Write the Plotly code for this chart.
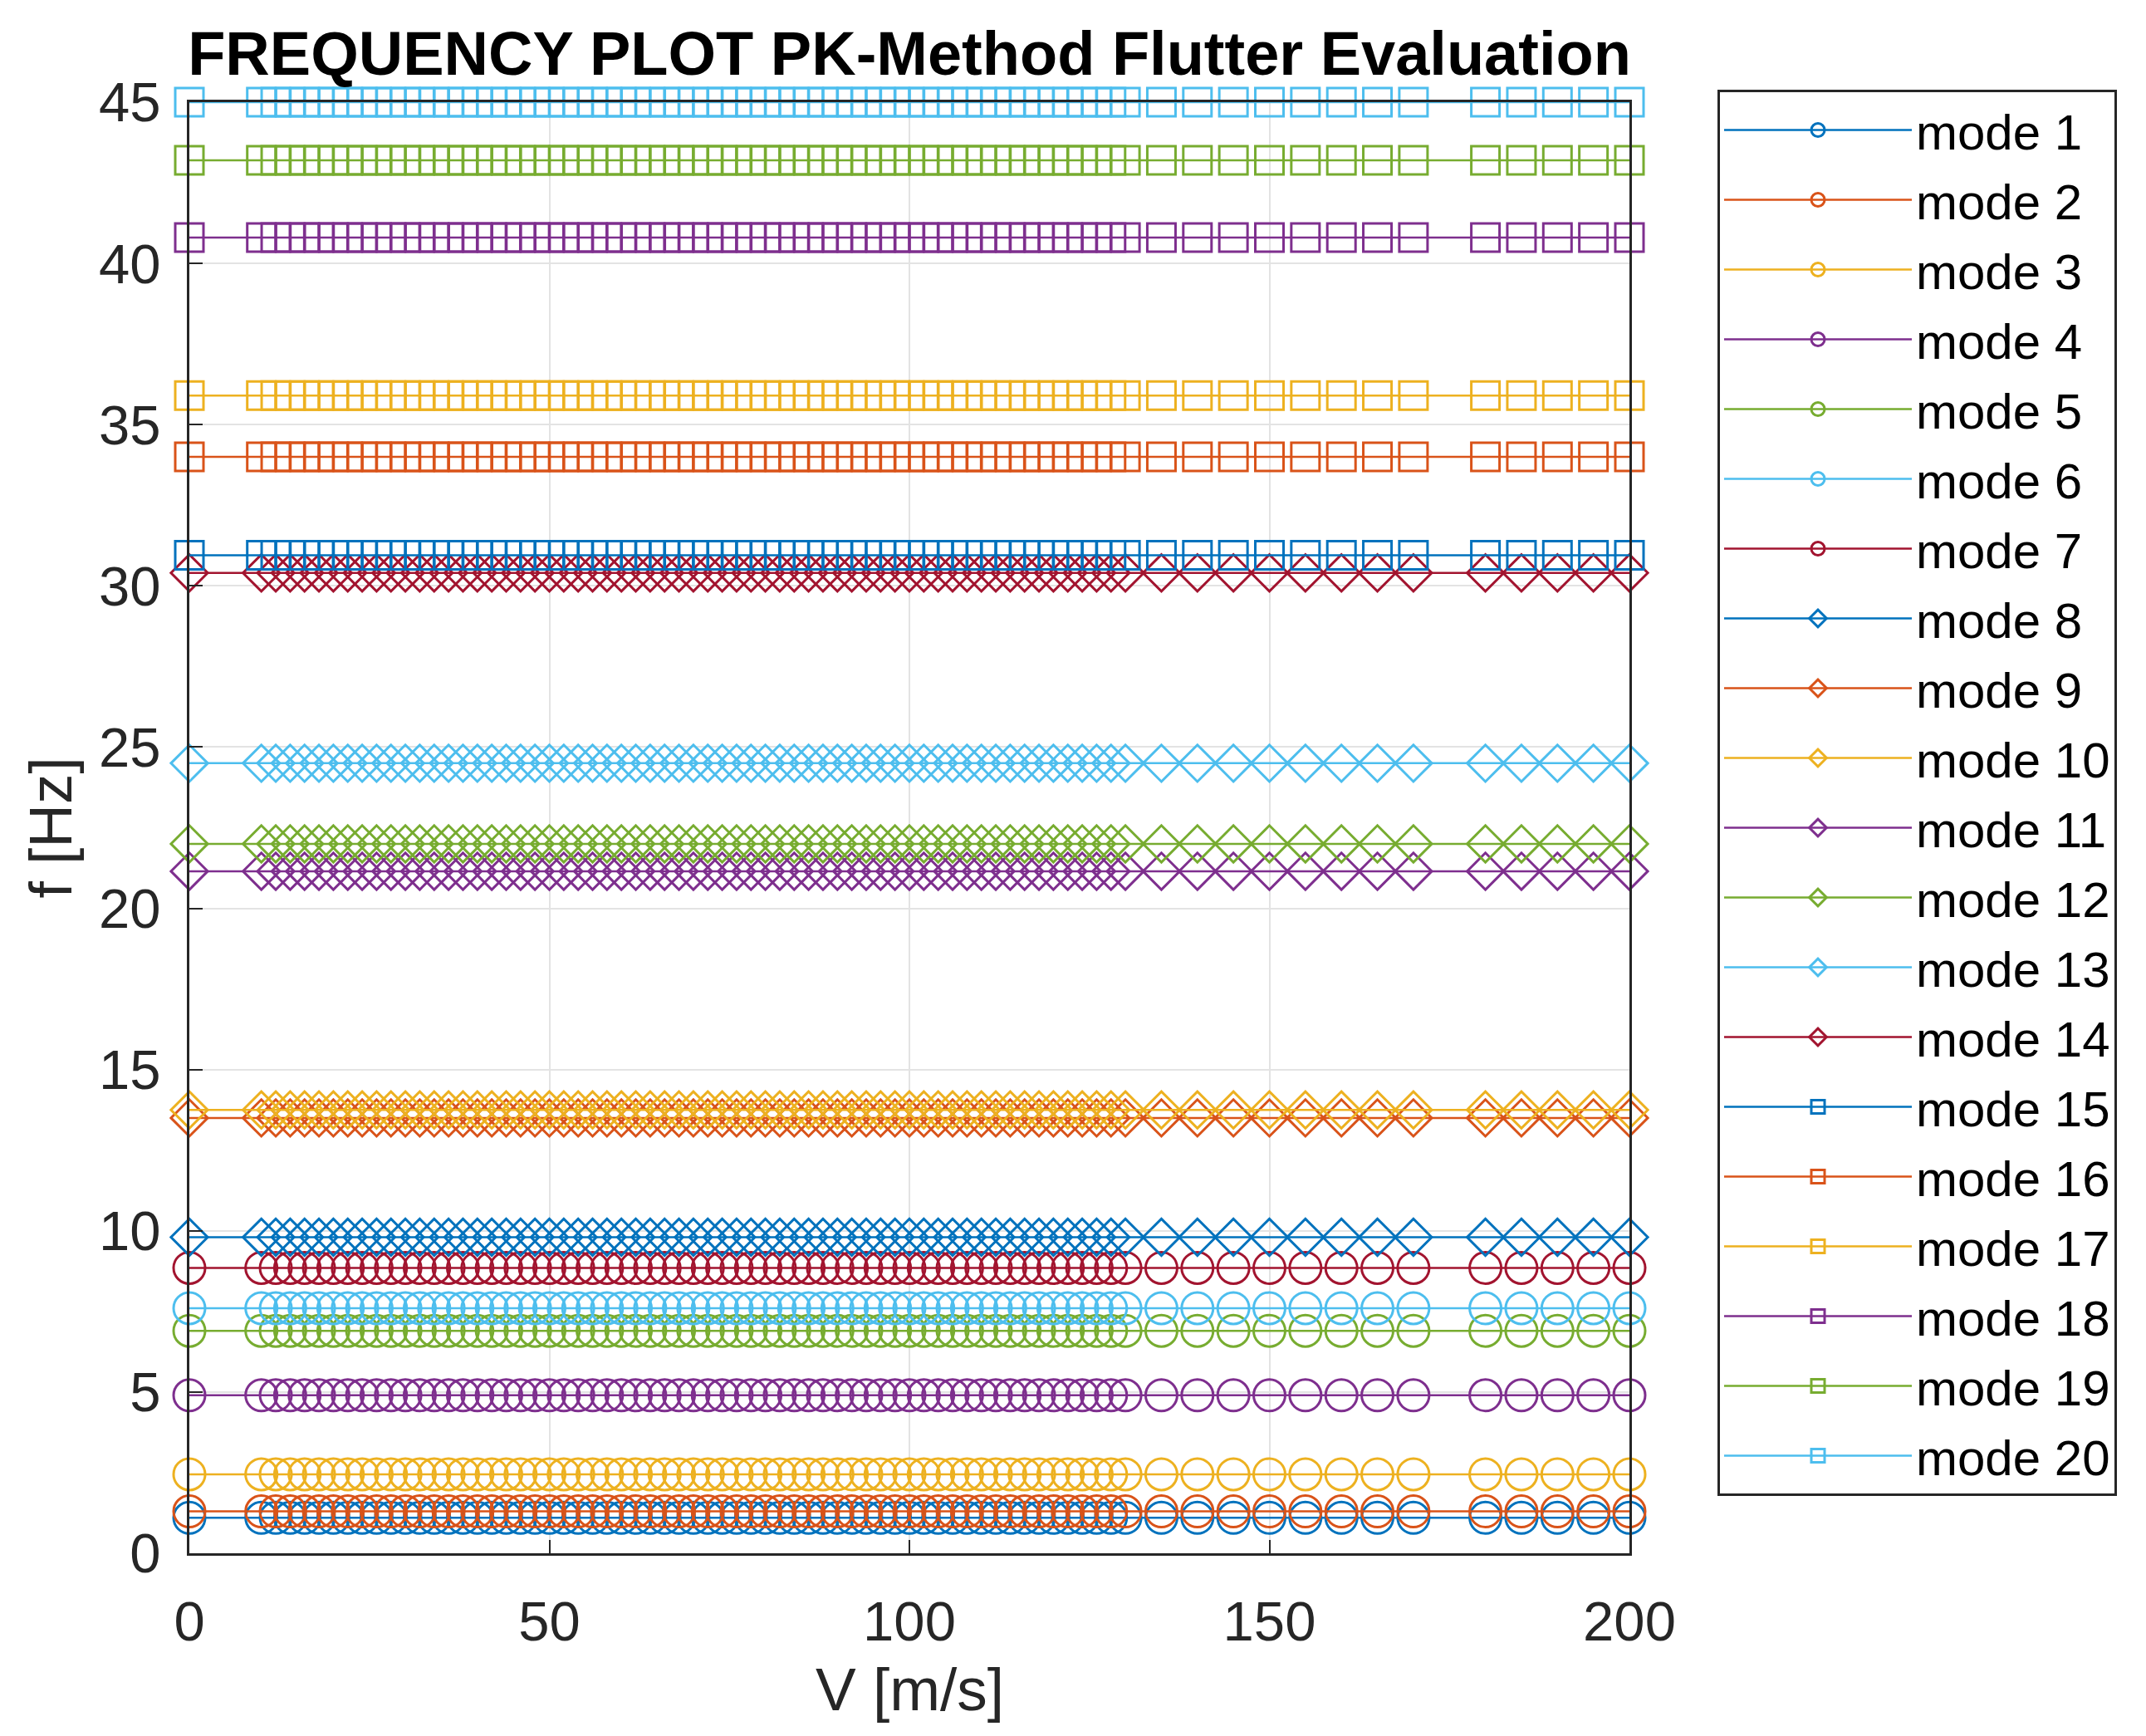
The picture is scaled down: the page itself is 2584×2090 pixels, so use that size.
"""Frequency plot, PK-method flutter evaluation (20 modes vs airspeed)
"""
import plotly.graph_objects as go

# airspeed points [m/s]
V = [0,
     10, 12, 14, 16, 18, 20, 22, 24, 26, 28, 30, 32, 34, 36, 38, 40,
     42, 44, 46, 48, 50, 52, 54, 56, 58, 60, 62, 64, 66, 68, 70,
     72, 74, 76, 78, 80, 82, 84, 86, 88, 90, 92, 94, 96, 98, 100,
     102, 104, 106, 108, 110, 112, 114, 116, 118, 120, 122, 124, 126, 128, 130,
     135, 140, 145, 150, 155, 160, 165, 170,
     180, 185, 190, 195, 200]

# frequency of each mode [Hz] (flat over the speed range)
mode_names = ["mode %d" % i for i in range(1, 21)]
mode_freq = [1.1, 1.3, 2.45, 4.9, 6.9, 7.6, 8.85,
             9.8, 13.5, 13.75, 21.15, 22.0, 24.5, 30.4,
             30.95, 34.0, 35.9, 40.8, 43.2, 45.0]

# matlab default line colours
matlab_colors = ["#0072BD", "#D95319", "#EDB120", "#7E2F8E",
                 "#77AC30", "#4DBEEE", "#A2142F"]

x_ticks = [0, 50, 100, 150, 200]
y_ticks = [0, 5, 10, 15, 20, 25, 30, 35, 40, 45]

FONT = "Liberation Sans, Arial, sans-serif"
INK = "#262626"

# plot area in pixels
L, R, T, B = 220, 630, 115, 228
W, H = 2584, 2090
PW, PH = W - L - R, H - T - B


def marker_for(idx):
    if idx < 7:
        return "circle-open", 38
    if idx < 14:
        return "diamond-open", 34
    return "square-open", 34


fig = go.Figure()
for i, (name, f) in enumerate(zip(mode_names, mode_freq)):
    col = matlab_colors[i % 7]
    sym, size = marker_for(i)
    fig.add_trace(go.Scatter(
        x=V, y=[f] * len(V),
        mode="lines+markers",
        name=name,
        legendgroup=name,
        cliponaxis=False,
        line=dict(color=col, width=2.5),
        marker=dict(symbol=sym, size=size, color=col,
                    line=dict(color=col, width=3)),
    ))

axis_common = dict(
    showline=True, linecolor=INK, linewidth=3, mirror=True,
    ticks="inside", ticklen=16, tickwidth=2, tickcolor=INK,
    showgrid=True, gridcolor="#E3E3E3", gridwidth=2,
    zeroline=False,
    tickfont=dict(family=FONT, size=67, color=INK),
)

fig.update_xaxes(range=[0, 200], tickvals=x_ticks, ticklabelstandoff=22,
                 **axis_common)
fig.update_yaxes(range=[0, 45], tickvals=y_ticks, ticklabelstandoff=18,
                 **axis_common)

fig.update_layout(
    width=W, height=H,
    margin=dict(l=L, r=R, t=T, b=B),
    paper_bgcolor="white", plot_bgcolor="white",
    title=dict(text="<b>FREQUENCY PLOT PK-Method Flutter Evaluation</b>",
               x=0.5, xref="paper", xanchor="center",
               y=1 - 56 / H, yref="container", yanchor="middle",
               font=dict(family=FONT, size=74, color="black")),
    legend=dict(x=(2060 - L) / PW, y=1 + (T - 100) / PH,
                xanchor="left", yanchor="top",
                bgcolor="white", bordercolor=INK, borderwidth=3,
                font=dict(family=FONT, size=60, color="black"),
                tracegroupgap=3, itemwidth=226, itemsizing="trace",
                maxheight=1900),
    showlegend=True,
    annotations=[
        dict(text="V [m/s]", xref="paper", yref="paper", x=0.5,
             y=-(2025 - (H - B)) / PH,
             xanchor="center", yanchor="middle", showarrow=False,
             font=dict(family=FONT, size=73, color=INK)),
        dict(text="f [Hz]", xref="paper", yref="paper", x=-(L - 52) / PW, y=0.5,
             xanchor="center", yanchor="middle", showarrow=False, textangle=-90,
             font=dict(family=FONT, size=73, color=INK)),
    ],
)

fig.write_html("out.html")
